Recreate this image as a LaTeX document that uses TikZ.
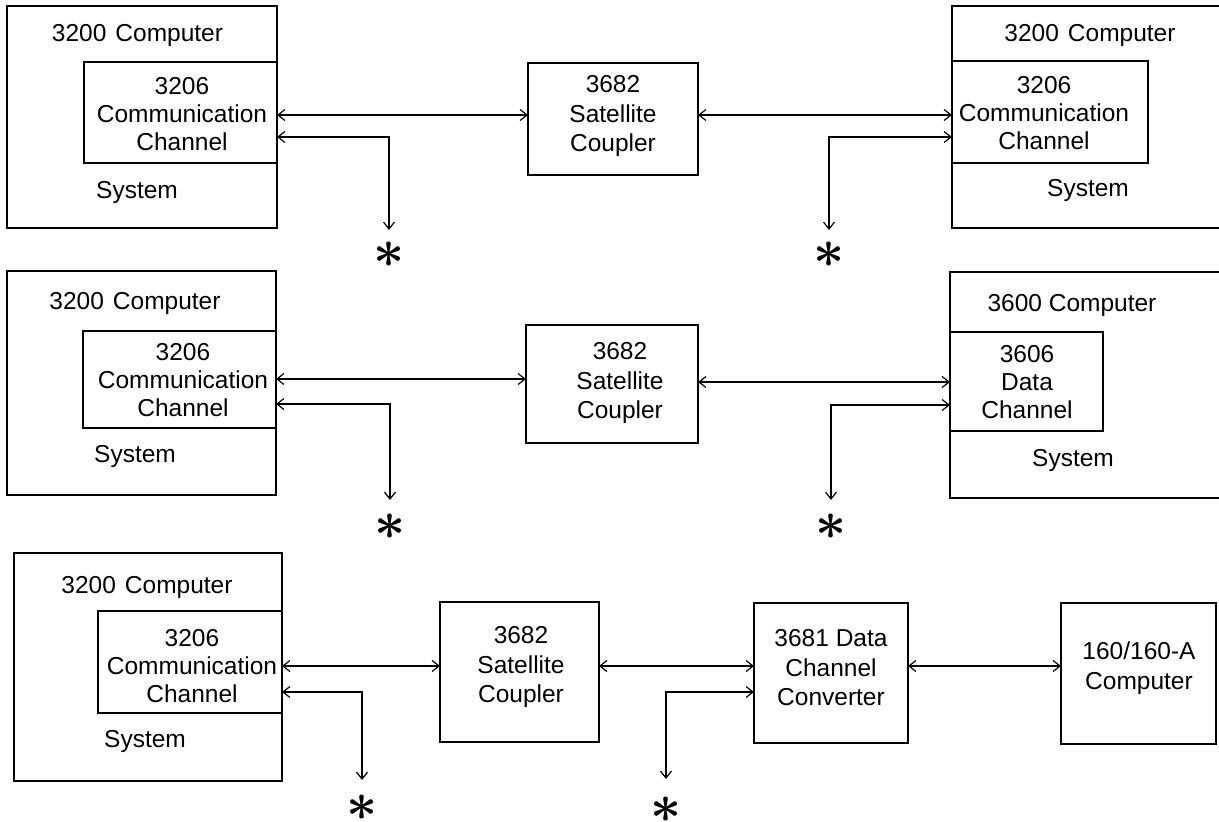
\RequirePackage{fix-cm}
\documentclass[tikz,border=0pt]{standalone}
\usepackage{fontspec}
\setmainfont{Liberation Sans}
\usetikzlibrary{arrows.meta}
\begin{document}
\begin{tikzpicture}[x=1pt,y=-1pt,
  every node/.style={inner sep=0pt, outer sep=0pt},
  box/.style={draw, line width=1.6pt, rectangle},
  lbl/.style={font=\fontsize{24.5}{28}\selectfont, align=center},
  lblw/.style={font=\fontsize{24.5}{29.5}\selectfont, align=center},
  tip/.tip={Straight Barb[length=7pt,width=11pt,line width=1.2pt]},
  conn/.style={line width=1.2pt, tip-tip},
  ast/.style={font=\fontsize{54}{54}\selectfont\boldmath}]
\useasboundingbox (0,0) rectangle (1219,822);

% ---------- Row 1 ----------
\node[box, minimum width=270pt, minimum height=222pt] (L1) at (142,117) {};
\node[box, minimum width=193pt, minimum height=101pt] (L1in) at (180.5,112.5) {};
\node[lbl] (L1t) at (137.5,35) {3200\hspace{9pt}Computer};
\node[lbl] (L1it) at (182,114) {3206\\Communication\\Channel};
\node[lbl] (L1s) at (137,192) {System};

\node[box, minimum width=170pt, minimum height=112pt] (C1) at (613,119) {};
\node[lblw] (C1t) at (613,116) {3682\\Satellite\\Coupler};

\node[minimum width=267pt, minimum height=222pt] (R1) at (1085.5,117) {};
\draw[line width=1.6pt] (R1.north east) -- (R1.north west) -- (R1.south west) -- (R1.south east);
\node[box, minimum width=196pt, minimum height=102pt] (R1in) at (1050,112) {};
\node[lbl] (R1t) at (1090,35) {3200\hspace{9pt}Computer};
\node[lbl] (R1it) at (1044,113) {3206\\Communication\\Channel};
\node[lbl] (R1s) at (1088,190) {System};

\coordinate (t1) at (389,230);
\coordinate (t2) at (829,230);
\node[ast] (s1) at (389,255) {$\ast$};
\node[ast] (s2) at (829,255) {$\ast$};

\draw[conn] (L1in.east |- 0,115) -- (C1.west |- 0,115);
\draw[conn] (L1in.east |- 0,137) -| (t1);
\draw[conn] (C1.east |- 0,115) -- (R1in.west |- 0,115);
\draw[conn] (R1in.west |- 0,137) -| (t2);

% ---------- Row 2 ----------
\node[box, minimum width=269pt, minimum height=224pt] (L2) at (141.5,383) {};
\node[box, minimum width=193pt, minimum height=97pt] (L2in) at (179.5,379.5) {};
\node[lbl] (L2t) at (135,303) {3200\hspace{9pt}Computer};
\node[lbl] (L2it) at (183,380) {3206\\Communication\\Channel};
\node[lbl] (L2s) at (135,456) {System};

\node[box, minimum width=172pt, minimum height=118pt] (C2) at (612,384) {};
\node[lblw] (C2t) at (620,383) {3682\\Satellite\\Coupler};

\node[minimum width=269pt, minimum height=226pt] (R2) at (1084.5,385) {};
\draw[line width=1.6pt] (R2.north east) -- (R2.north west) -- (R2.south west) -- (R2.south east);
\node[box, minimum width=153pt, minimum height=99pt] (R2in) at (1026.5,381.5) {};
\node[lbl] (R2t) at (1072,305) {3600 Computer};
\node[lbl] (R2it) at (1027,382) {3606\\Data\\Channel};
\node[lbl] (R2s) at (1073,460) {System};

\coordinate (t3) at (390,500);
\coordinate (t4) at (831,500);
\node[ast] (s3) at (390,527) {$\ast$};
\node[ast] (s4) at (831,527) {$\ast$};

\draw[conn] (L2in.east |- 0,379) -- (C2.west |- 0,379);
\draw[conn] (L2in.east |- 0,404) -| (t3);
\draw[conn] (C2.east |- 0,382) -- (R2in.west |- 0,382);
\draw[conn] (R2in.west |- 0,405) -| (t4);

% ---------- Row 3 ----------
\node[box, minimum width=268pt, minimum height=228pt] (L3) at (148,667) {};
\node[box, minimum width=184pt, minimum height=102pt] (L3in) at (190,662) {};
\node[lbl] (L3t) at (147,587) {3200\hspace{9pt}Computer};
\node[lbl] (L3it) at (192,666) {3206\\Communication\\Channel};
\node[lbl] (L3s) at (145,741) {System};

\node[box, minimum width=159pt, minimum height=140pt] (C3) at (519.5,672) {};
\node[lblw] (C3t) at (521,667) {3682\\Satellite\\Coupler};

\node[box, minimum width=154pt, minimum height=140pt] (D3) at (831,673) {};
\node[lblw] (D3t) at (831,668) {3681 Data\\Channel\\Converter};

\node[box, minimum width=155pt, minimum height=141pt] (P3) at (1138.5,673.5) {};
\node[lblw] (P3t) at (1139,668) {160/160-A\\Computer};

\coordinate (t5) at (362,780);
\coordinate (t6) at (666,779);
\node[ast] (s5) at (362,808) {$\ast$};
\node[ast] (s6) at (666,810) {$\ast$};

\draw[conn] (L3in.east |- 0,666) -- (C3.west |- 0,666);
\draw[conn] (L3in.east |- 0,692) -| (t5);
\draw[conn] (C3.east |- 0,666) -- (D3.west |- 0,666);
\draw[conn] (D3.west |- 0,692) -| (t6);
\draw[conn] (D3.east |- 0,666) -- (P3.west |- 0,666);
\end{tikzpicture}
\end{document}
